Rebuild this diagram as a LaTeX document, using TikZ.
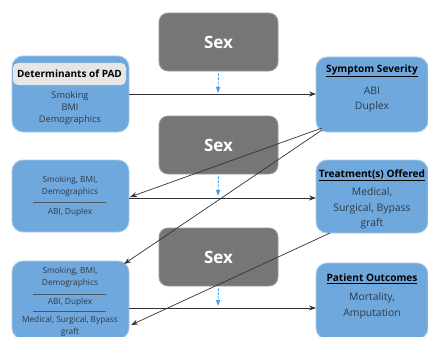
\documentclass[tikz,border=0pt]{standalone}
\usepackage{fontspec}
\setmainfont{Open Sans}
\usetikzlibrary{arrows.meta,calc}
\definecolor{boxblue}{HTML}{6FA8DC}
\definecolor{boxedge}{HTML}{A9CBEA}
\definecolor{sexgrey}{HTML}{767676}
\definecolor{sexedge}{HTML}{9A9A9A}
\definecolor{hdrgrey}{HTML}{E6E6E6}
\definecolor{ink}{HTML}{2E3A48}
\definecolor{flow}{HTML}{333333}
\definecolor{dashblue}{HTML}{3C9BEA}
\tikzset{
  bluebox/.style={draw=boxedge, line width=0.8pt, fill=boxblue, rounded corners=11pt, inner sep=0pt},
  sexbox/.style={draw=sexedge, line width=0.8pt, fill=sexgrey, rounded corners=9pt, inner sep=0pt,
    text=white, font=\fontsize{17}{20}\selectfont\bfseries},
  hdrbox/.style={fill=hdrgrey, rounded corners=5pt, inner sep=0pt, text=black,
    font=\fontsize{10}{11}\selectfont\bfseries},
  body/.style={text=ink, inner sep=0pt, align=center, font=\fontsize{9.2}{12}\selectfont},
  small/.style={text=ink, inner sep=0pt, align=center, font=\fontsize{8.3}{11.5}\selectfont},
  big/.style={text=ink, inner sep=0pt, align=center, font=\fontsize{10.4}{15.5}\selectfont},
  title/.style={text=black, inner sep=0pt, font=\fontsize{10.1}{11}\selectfont\bfseries},
  divider/.style={draw=ink!85, line width=0.8pt},
  flowline/.style={draw=flow, line width=0.7pt, -{Stealth[length=7pt,width=5pt]}},
  sexarrow/.style={draw=dashblue, line width=0.8pt, dash pattern=on 2.5pt off 1.5pt,
    -{Triangle[length=6pt,width=4pt]}},
}
\begin{document}
\begin{tikzpicture}[x=1pt,y=-1pt]
\useasboundingbox (0,0) rectangle (428,337);

% Sex (moderator) boxes
\node[sexbox, minimum width=119pt, minimum height=58pt] (sex1) at (218.5,42) {Sex};
\node[sexbox, minimum width=119pt, minimum height=58pt] (sex2) at (218.5,145) {Sex};
\node[sexbox, minimum width=119pt, minimum height=58pt] (sex3) at (218.5,257) {Sex};

% Left column
\node[bluebox, minimum width=117pt, minimum height=76pt] (lb1) at (70.5,94) {};
\node[hdrbox, minimum width=113pt, minimum height=22pt] (hdr) at (69.5,74) {Determinants of PAD};
\node[body] (lb1t) at (70,108) {Smoking\\BMI\\Demographics};

\node[bluebox, minimum width=117pt, minimum height=72pt] (lb2) at (70.5,196) {};
\node[small] (lb2a) at (70,186.5) {Smoking, BMI,\\Demographics};
\coordinate (d2l) at (33,202);
\coordinate (d2r) at (106,202);
\node[small] (lb2b) at (70,212.5) {ABI, Duplex};

\node[bluebox, minimum width=117pt, minimum height=78pt] (lb3) at (70.5,300) {};
\node[small] (lb3a) at (70,277.5) {Smoking, BMI,\\Demographics};
\coordinate (d3l) at (33,294);
\coordinate (d3r) at (106,294);
\node[small] (lb3b) at (70,302.5) {ABI, Duplex};
\coordinate (d3l2) at (33,311);
\coordinate (d3r2) at (106,311);
\node[small] (lb3c) at (70,326.5) {Medical, Surgical, Bypass\\graft};

% Right column
\node[bluebox, minimum width=112pt, minimum height=75pt] (rb1) at (372,94.5) {};
\node[title] (rb1t) at (372,71) {\underline{Symptom Severity}};
\node[big] (rb1b) at (372,99.5) {ABI\\Duplex};

\node[bluebox, minimum width=112pt, minimum height=73pt] (rb2) at (372,196.5) {};
\node[title] (rb2t) at (372,175) {\underline{Treatment(s) Offered}};
\node[big] (rb2b) at (372,208.5) {Medical,\\Surgical, Bypass\\graft};

\node[bluebox, minimum width=112pt, minimum height=76pt] (rb3) at (372,301) {};
\node[title] (rb3t) at (372,279) {\underline{Patient Outcomes}};
\node[big] (rb3b) at (372,306) {Mortality,\\Amputation};

% dividers inside combined boxes
\draw[divider] (d2l) -- (d2r);
\draw[divider] (d3l) -- (d3r);
\draw[divider] (d3l2) -- (d3r2);

% moderator arrows
\coordinate (m1) at (218,93);
\coordinate (m2) at (218,196);
\coordinate (m3) at (218,306);
\draw[sexarrow] ($(sex1.south)+(0,2)$) -- (m1);
\draw[sexarrow] ($(sex2.south)+(0,2)$) -- (m2);
\draw[sexarrow] ($(sex3.south)+(0,2)$) -- (m3);

% main flow connectors
\coordinate (a1s) at (129,94);  \coordinate (a1e) at (316,94);
\coordinate (a2s) at (129,198); \coordinate (a2e) at (316,198);
\coordinate (a3s) at (129,308); \coordinate (a3e) at (316,308);
\draw[flowline] (a1s) -- (a1e);
\draw[flowline] (a2s) -- (a2e);
\draw[flowline] (a3s) -- (a3e);

\coordinate (r1a) at (322,128);
\coordinate (r1b) at (322,130);
\coordinate (r2a) at (330,233);
\coordinate (l2in) at (130,197);
\coordinate (l3in) at (124,264);
\coordinate (l3in2) at (131,325);
\draw[flowline] (r1a) -- (l2in);
\draw[flowline] (r1b) -- (l3in);
\draw[flowline] (r2a) -- (l3in2);
\end{tikzpicture}
\end{document}
